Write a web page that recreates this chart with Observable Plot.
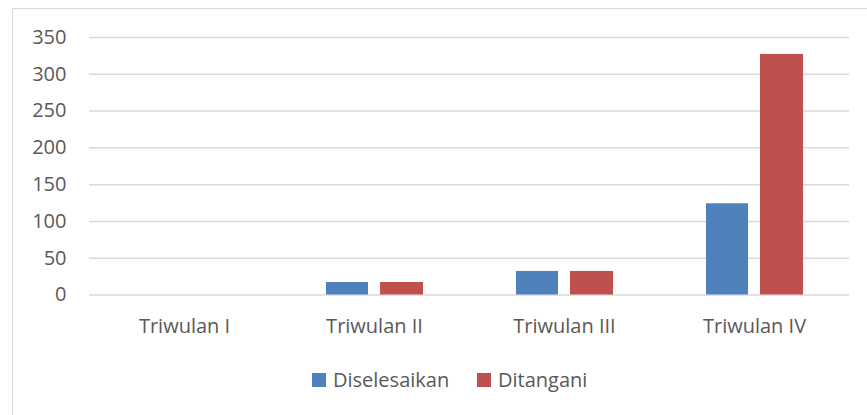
<!DOCTYPE html>
<html>
<head>
<meta charset="utf-8">
<script src="https://cdn.jsdelivr.net/npm/d3@7"></script>
<script src="https://cdn.jsdelivr.net/npm/@observablehq/plot@0.6"></script>
<style>
  html, body { margin: 0; padding: 0; background: #fff; overflow: hidden; }
  #wrap { position: relative; width: 867px; height: 415px; overflow: hidden; font-family: "Open Sans", sans-serif; }
  #frame { position: absolute; left: 12px; top: 8px; width: 900px; height: 500px; border: 1px solid #d9d9d9; box-sizing: border-box; }
  #chart { position: absolute; left: 0; top: 0; }
  #legend { position: absolute; top: 366px; left: 0; width: 867px; height: 28px; font-size: 20px; color: #595959; }
  .item { position: absolute; top: 0; height: 28px; line-height: 28px; white-space: nowrap; }
  .sw { display: inline-block; width: 14px; height: 14px; vertical-align: middle; margin-right: 7px; position: relative; top: -2px; }
</style>
</head>
<body>
<div id="wrap">
  <div id="frame"></div>
  <div id="chart"></div>
  <div id="legend"></div>
</div>
<script>
const categories = ["Triwulan I", "Triwulan II", "Triwulan III", "Triwulan IV"];
const diselesaikan = [0, 17, 32, 124];
const ditangani = [0, 17, 32, 327];
const seriesNames = ["Diselesaikan", "Ditangani"];
const seriesColors = ["#4f81bd", "#c0504d"];
const yTicks = [0, 50, 100, 150, 200, 250, 300, 350];

const rowsA = categories.map((c, i) => ({cat: c, v: diselesaikan[i]}));
const rowsB = categories.map((c, i) => ({cat: c, v: ditangani[i]}));

const chart = Plot.plot({
  width: 867,
  height: 345,
  marginLeft: 89,
  marginRight: 18,
  marginTop: 37,
  marginBottom: 50.5,
  style: {fontFamily: "Open Sans", fontSize: "20px", color: "#595959", background: "transparent"},
  x: {domain: categories, padding: 0, label: null},
  y: {domain: [0, 350], label: null},
  marks: [
    Plot.gridY(yTicks, {stroke: "#d9d9d9", strokeOpacity: 1, strokeWidth: 1.5}),
    Plot.barY(rowsA, {x: "cat", y: "v", fill: seriesColors[0], dx: -27, insetLeft: 74, insetRight: 74}),
    Plot.barY(rowsB, {x: "cat", y: "v", fill: seriesColors[1], dx: 27.5, insetLeft: 73.5, insetRight: 73.5}),
    Plot.axisY({ticks: yTicks, tickSize: 0, tickPadding: 23, label: null, fontSize: 20}),
    Plot.axisX({tickSize: 0, tickPadding: 24, label: null, fontSize: 20})
  ]
});
document.getElementById("chart").appendChild(chart);

const legend = document.getElementById("legend");
const lefts = [312, 477];
seriesNames.forEach((name, i) => {
  const it = document.createElement("div");
  it.className = "item";
  it.style.left = lefts[i] + "px";
  it.innerHTML = `<span class="sw" style="background:${seriesColors[i]}"></span>${name}`;
  legend.appendChild(it);
});
</script>
</body>
</html>
